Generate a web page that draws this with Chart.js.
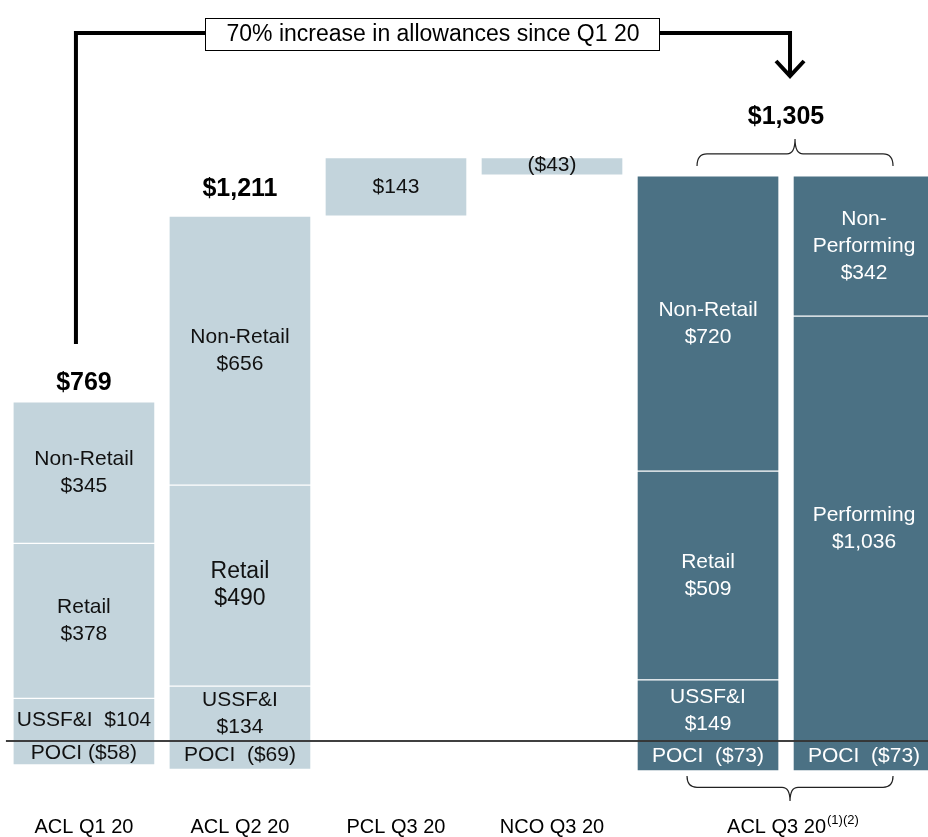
<!DOCTYPE html>
<html>
<head>
<meta charset="utf-8">
<script src="https://cdn.jsdelivr.net/npm/chart.js@4"></script>
<style>
  html, body { margin: 0; padding: 0; background: #fff; }
  #wrap { width: 928px; height: 837px; position: relative; }
</style>
</head>
<body>
<div id="wrap"><canvas id="chart"></canvas></div>
<script>
// categories along the bottom
const categories = ['ACL Q1 20', 'ACL Q2 20', 'PCL Q3 20', 'NCO Q3 20', 'ACL Q3 20'];

// ACL by loan type for Q1 20, Q2 20, Q3 20 ($mm)
const pociByType = [-58, -69, -73];
const ussfiByType = [104, 134, 149];
const retailByType = [378, 490, 509];
const nonRetailByType = [345, 656, 720];
const aclTotals = ['$769', '$1,211', '$1,305'];

// Q3 20 movements
const pclQ3 = 143;
const ncoQ3 = -43;

// ACL Q3 20 by performance status
const pociByStatus = -73;
const performingQ3 = 1036;
const nonPerformingQ3 = 342;

const LIGHT = '#c3d4dc';
const DARK = '#4b7184';
const FONT = '"Liberation Sans", Arial, sans-serif';

const aclX = [0, 1, 4];   // index positions of the ACL bars
const money = v => v < 0 ? '($' + Math.abs(v) + ')' : '$' + v.toLocaleString('en-US');

// build floating ranges from the segment values
const q2Top = ussfiByType[1] + retailByType[1] + nonRetailByType[1];
const pclRange = [q2Top, q2Top + pclQ3];
const ncoRange = [q2Top + pclQ3 + ncoQ3, q2Top + pclQ3];

const segColor = x => x >= 4 ? DARK : LIGHT;

const pociData = aclX.map((x, i) => ({ x, y: [pociByType[i], 0] })).concat([{ x: 5, y: [pociByStatus, 0] }]);
const ussfiData = aclX.map((x, i) => ({ x, y: [0, ussfiByType[i]] }));
const retailData = aclX.map((x, i) => ({ x, y: [ussfiByType[i], ussfiByType[i] + retailByType[i]] }));
const nonRetailData = aclX.map((x, i) => {
  const b = ussfiByType[i] + retailByType[i];
  return { x, y: [b, b + nonRetailByType[i]] };
});

const datasets = [
  {
    label: 'POCI', data: pociData,
    backgroundColor: pociData.map(d => segColor(d.x)),
    texts: [['POCI ($58)'], ['POCI  ($69)'], ['POCI  ($73)'], ['POCI  ($73)']]
  },
  {
    label: 'USSF&I', data: ussfiData,
    backgroundColor: ussfiData.map(d => segColor(d.x)),
    texts: [['USSF&I  ' + money(ussfiByType[0])], ['USSF&I', money(ussfiByType[1])], ['USSF&I', money(ussfiByType[2])]]
  },
  {
    label: 'Retail', data: retailData,
    backgroundColor: retailData.map(d => segColor(d.x)),
    texts: retailByType.map(v => ['Retail', money(v)]),
    sizes: [21, 23, 21]
  },
  {
    label: 'Non-Retail', data: nonRetailData,
    backgroundColor: nonRetailData.map(d => segColor(d.x)),
    texts: nonRetailByType.map(v => ['Non-Retail', money(v)])
  },
  {
    label: 'PCL', data: [{ x: 2, y: pclRange }],
    backgroundColor: LIGHT, texts: [[money(pclQ3)]]
  },
  {
    label: 'NCO', data: [{ x: 3, y: ncoRange }],
    backgroundColor: LIGHT, texts: [[money(ncoQ3)]], shift: [-1]
  },
  {
    label: 'Performing', data: [{ x: 5, y: [0, performingQ3] }],
    backgroundColor: DARK, texts: [['Performing', money(performingQ3)]]
  },
  {
    label: 'Non-Performing', data: [{ x: 5, y: [performingQ3, performingQ3 + nonPerformingQ3] }],
    backgroundColor: DARK, texts: [['Non-', 'Performing', money(nonPerformingQ3)]]
  }
];

const annotations = {
  id: 'annotations',
  afterDatasetsDraw(chart) {
    const { ctx, scales: { x, y } } = chart;
    ctx.save();
    ctx.textAlign = 'center';
    ctx.textBaseline = 'middle';

    // segment labels
    chart.data.datasets.forEach((ds, di) => {
      const meta = chart.getDatasetMeta(di);
      meta.data.forEach((bar, i) => {
        const lines = ds.texts[i];
        const dark = ds.data[i].x >= 4;
        const size = ds.sizes ? ds.sizes[i] : 21;
        ctx.fillStyle = dark ? '#fff' : '#111';
        ctx.font = size + 'px ' + FONT;
        const cy = (bar.y + bar.base) / 2 + (ds.shift ? ds.shift[i] : 0);
        const lh = 27;
        lines.forEach((t, k) => {
          ctx.fillText(t, bar.x, cy + (k - (lines.length - 1) / 2) * lh);
        });
      });
    });

    // zero line
    ctx.strokeStyle = '#000';
    ctx.lineWidth = 1.5;
    ctx.beginPath();
    ctx.moveTo(x.getPixelForValue(-0.5), y.getPixelForValue(0));
    ctx.lineTo(chart.chartArea.right, y.getPixelForValue(0));
    ctx.stroke();

    // totals
    ctx.fillStyle = '#000';
    ctx.font = 'bold 25px ' + FONT;
    const topOf = i => y.getPixelForValue(ussfiByType[i] + retailByType[i] + nonRetailByType[i]);
    ctx.fillText(aclTotals[0], x.getPixelForValue(0), topOf(0) - 19);
    ctx.fillText(aclTotals[1], x.getPixelForValue(1), topOf(1) - 27);
    const braceX = x.getPixelForValue(4.5);
    const q3Top = topOf(2);
    ctx.fillText(aclTotals[2], braceX, q3Top - 59);

    // braces over and under the Q3 bars
    const brace = (x1, x2, yEnd, yTip) => {
      const mid = (x1 + x2) / 2;
      const yMid = (yEnd + yTip) / 2 + (yEnd - yTip) * 0.05;
      ctx.beginPath();
      ctx.moveTo(x1, yEnd);
      ctx.quadraticCurveTo(x1, yMid, x1 + 10, yMid);
      ctx.lineTo(mid - 8, yMid);
      ctx.quadraticCurveTo(mid, yMid, mid, yTip);
      ctx.quadraticCurveTo(mid, yMid, mid + 8, yMid);
      ctx.lineTo(x2 - 10, yMid);
      ctx.quadraticCurveTo(x2, yMid, x2, yEnd);
      ctx.stroke();
    };
    ctx.lineWidth = 1.2;
    ctx.strokeStyle = '#222';
    brace(braceX - 89, braceX + 107, q3Top - 10, q3Top - 37);
    const zeroY = y.getPixelForValue(0);
    brace(braceX - 99, braceX + 107, zeroY + 35, zeroY + 60);

    // arrow from Q1 total to Q3 total
    ctx.strokeStyle = '#000';
    ctx.lineWidth = 4;
    ctx.lineJoin = 'miter';
    const ax1 = x.getPixelForValue(0) - 8;
    const ax2 = braceX + 4;
    const lineY = 33;
    ctx.beginPath();
    ctx.moveTo(ax1, topOf(0) - 58);
    ctx.lineTo(ax1, lineY);
    ctx.lineTo(ax2, lineY);
    ctx.lineTo(ax2, 76);
    ctx.stroke();
    ctx.beginPath();
    ctx.moveTo(ax2 - 14, 61);
    ctx.lineTo(ax2, 76);
    ctx.lineTo(ax2 + 14, 61);
    ctx.stroke();

    // caption box
    ctx.font = '23px ' + FONT;
    const cap = '70% increase in allowances since Q1 20';
    const bx = 205, bw = 454, by = 18, bh = 32;
    ctx.fillStyle = '#fff';
    ctx.fillRect(bx, by, bw, bh);
    ctx.lineWidth = 1;
    ctx.strokeRect(bx + 0.5, by + 0.5, bw, bh);
    ctx.fillStyle = '#000';
    ctx.fillText(cap, bx + bw / 2 + 1, by + bh / 2 + 1);

    // category labels
    ctx.font = '20px ' + FONT;
    const labelY = 827;
    [0, 1, 2, 3].forEach(i => ctx.fillText(categories[i], x.getPixelForValue(i), labelY));
    ctx.textAlign = 'right';
    const q3x = braceX + 40;
    ctx.fillText(categories[4], q3x, labelY);
    ctx.textAlign = 'left';
    ctx.font = '13px ' + FONT;
    ctx.fillText('(1)(2)', q3x + 1, labelY - 7);
    ctx.restore();
  }
};

new Chart(document.getElementById('chart'), {
  type: 'bar',
  data: { datasets },
  options: {
    responsive: true,
    maintainAspectRatio: false,
    animation: false,
    layout: { padding: 0 },
    datasets: {
      bar: {
        grouped: false,
        barThickness: 142,
        borderColor: '#fff',
        borderWidth: 1,
        borderSkipped: false
      }
    },
    scales: {
      x: { type: 'linear', display: false, offset: false, bounds: 'data', min: -0.538, max: 5.41 },
      y: { display: false, min: -234, max: 1807 }
    },
    plugins: {
      legend: { display: false },
      tooltip: { enabled: false }
    }
  },
  plugins: [annotations]
});
</script>
</body>
</html>
